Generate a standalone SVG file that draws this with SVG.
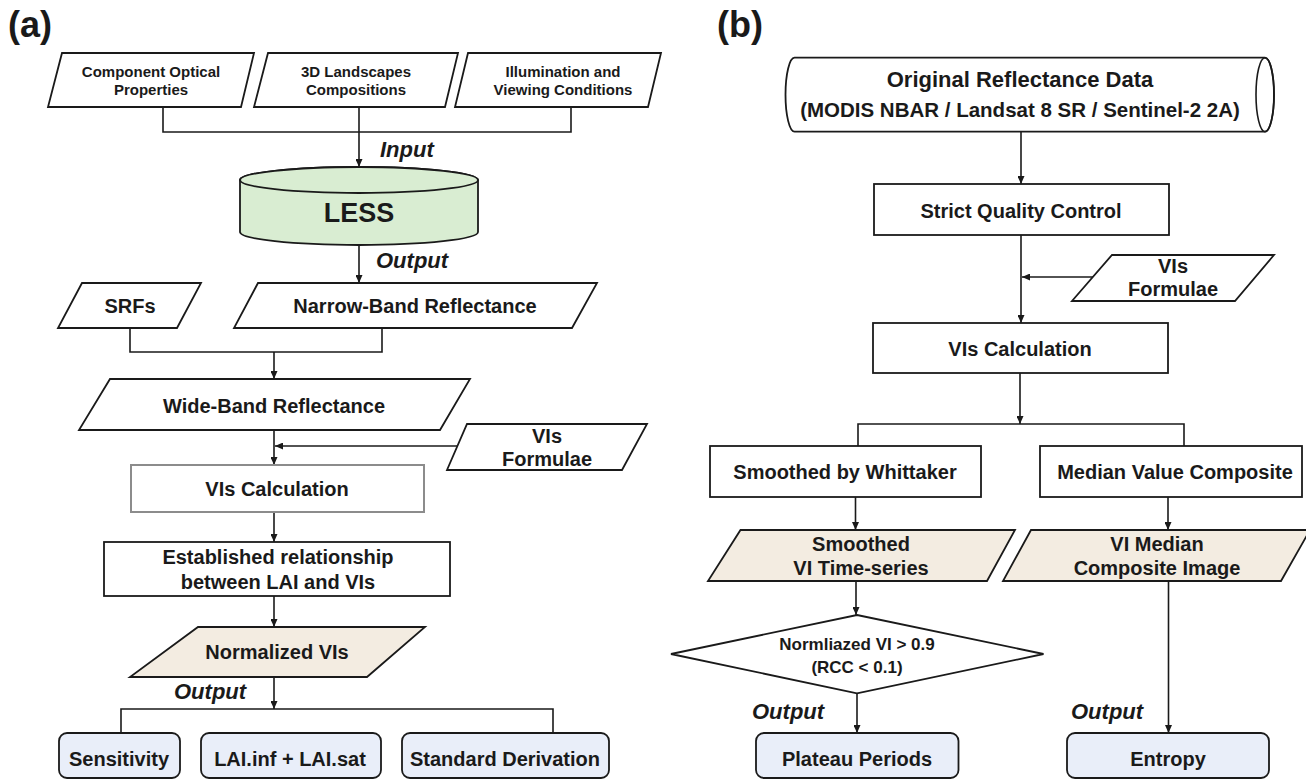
<svg xmlns="http://www.w3.org/2000/svg" width="1306" height="779" viewBox="0 0 1306 779">
<defs>
<marker id="arr" markerWidth="8" markerHeight="7" refX="8" refY="3.5" orient="auto" markerUnits="userSpaceOnUse"><path d="M0,0 L8,3.5 L0,7 z" fill="#1a1a1a"/></marker>
<style>
text{font-family:"Liberation Sans",Arial,sans-serif;font-weight:bold;fill:#1a1a1a;text-anchor:middle}
.s15{font-size:15px}.s20{font-size:20px}.s17{font-size:17px}
.lab{font-size:36px;text-anchor:start}
.it{font-size:22px;font-style:italic;text-anchor:start}
.box{fill:#fff;stroke:#1a1a1a;stroke-width:1.8}
.gray{fill:#fff;stroke:#8c8c8c;stroke-width:2}
.beige{fill:#f3ece1;stroke:#1a1a1a;stroke-width:1.8}
.blue{fill:#e9eef9;stroke:#1a1a1a;stroke-width:1.8}
.green{fill:#d9edd2;stroke:#1a1a1a;stroke-width:1.8}
.con path,.con line{fill:none;stroke:#1a1a1a;stroke-width:1.6}
.ar{marker-end:url(#arr)}
</style>
</defs>
<rect width="1306" height="779" fill="#fff"/>
<text class="lab" x="8" y="37">(a)</text>
<text class="lab" x="717" y="37">(b)</text>

<g id="connectors" class="con">
<path d="M163,107 V132 H571 V107"/>
<line class="ar" x1="359" y1="107" x2="359" y2="167"/>
<line class="ar" x1="359" y1="245" x2="359" y2="283"/>
<path d="M130,328 V352 H382 V328"/>
<line class="ar" x1="274" y1="352" x2="274" y2="379"/>
<line class="ar" x1="274" y1="430" x2="274" y2="465"/>
<line class="ar" x1="458" y1="446" x2="275" y2="446"/>
<line class="ar" x1="274" y1="512" x2="274" y2="542"/>
<line class="ar" x1="274" y1="596" x2="274" y2="627"/>
<line class="ar" x1="274" y1="677" x2="274" y2="709"/>
<path d="M121,733 V709 H553 V733"/>
<line class="ar" x1="1021" y1="132" x2="1021" y2="184"/>
<line class="ar" x1="1021" y1="235" x2="1021" y2="323"/>
<line class="ar" x1="1093" y1="277" x2="1022" y2="277"/>
<line class="ar" x1="1020" y1="373" x2="1020" y2="424"/>
<path d="M858,446 V424 H1184 V446"/>
<line class="ar" x1="855.5" y1="497" x2="855.5" y2="530"/>
<line class="ar" x1="1168" y1="497" x2="1168" y2="530"/>
<line class="ar" x1="856" y1="581" x2="856" y2="615"/>
<line class="ar" x1="857" y1="693" x2="857" y2="733"/>
<line class="ar" x1="1168.5" y1="581" x2="1168.5" y2="733"/>
</g>
<g id="labels">
<text class="it" x="380" y="157">Input</text>
<text class="it" x="376" y="268">Output</text>
<text class="it" x="174" y="699">Output</text>
<text class="it" x="752" y="719">Output</text>
<text class="it" x="1071" y="719">Output</text>
</g>

<g id="a-optical"><polygon class="box" points="62,53 254,53 241,107 48,107"/><text class="s15" x="151" y="77">Component Optical</text><text class="s15" x="151" y="95">Properties</text></g>
<g id="a-landscape"><polygon class="box" points="268,53 458,53 445,107 254,107"/><text class="s15" x="356" y="77">3D Landscapes</text><text class="s15" x="356" y="95">Compositions</text></g>
<g id="a-illum"><polygon class="box" points="468,53 661,53 648,107 455,107"/><text class="s15" x="563" y="77">Illumination and</text><text class="s15" x="563" y="95">Viewing Conditions</text></g>
<g id="a-less"><path class="green" d="M240,180 A119,13 0 0 1 478,180 V232 A119,13 0 0 1 240,232 Z"/><ellipse class="green" cx="359" cy="180" rx="119" ry="13"/><text x="359" y="222" style="font-size:27px">LESS</text></g>
<g id="a-srfs"><polygon class="box" points="82,283 201,283 177,328 58,328"/><text class="s20" x="130" y="313">SRFs</text></g>
<g id="a-narrow"><polygon class="box" points="258,283 597,283 572,328 234,328"/><text class="s20" x="415" y="313">Narrow-Band Reflectance</text></g>
<g id="a-wide"><polygon class="box" points="110,379 470,379 440,430 79,430"/><text class="s20" x="274" y="413">Wide-Band Reflectance</text></g>
<g id="a-formulae"><polygon class="box" points="467,424 647,424 622,470 447,470"/><text class="s20" x="547" y="443">VIs</text><text class="s20" x="547" y="466">Formulae</text></g>
<g id="a-vicalc"><rect class="gray" x="131" y="465" width="293" height="47"/><text class="s20" x="277" y="496">VIs Calculation</text></g>
<g id="a-relation"><rect class="box" x="104" y="542" width="346" height="54"/><text class="s20" x="278" y="564">Established relationship</text><text class="s20" x="278" y="589">between LAI and VIs</text></g>
<g id="a-normalized"><polygon class="beige" points="198,627 425,627 367,677 130,677"/><text class="s20" x="277" y="659">Normalized VIs</text></g>
<g id="a-sens"><rect class="blue" x="59" y="733" width="121" height="45" rx="8"/><text class="s20" x="119" y="766">Sensitivity</text></g>
<g id="a-lai"><rect class="blue" x="201" y="733" width="180" height="45" rx="8"/><text class="s20" x="290" y="766">LAI.inf + LAI.sat</text></g>
<g id="a-std"><rect class="blue" x="402" y="733" width="207" height="45" rx="8"/><text class="s20" x="505" y="766">Standard Derivation</text></g>

<g id="b-original"><path class="box" d="M794.5,57.7 H1265 A9,37 0 0 1 1265,131.7 H794.5 A9,37 0 0 1 794.5,57.7 Z"/><ellipse cx="1265" cy="94.7" rx="9" ry="37" fill="none" stroke="#1a1a1a" stroke-width="1.6"/><text x="1020" y="87" style="font-size:22px">Original Reflectance Data</text><text x="1020" y="117" style="font-size:20.5px">(MODIS NBAR / Landsat 8 SR / Sentinel-2 2A)</text></g>
<g id="b-quality"><rect class="box" x="874" y="184" width="295" height="51"/><text class="s20" x="1021" y="218">Strict Quality Control</text></g>
<g id="b-formulae"><polygon class="box" points="1112,255 1274,255 1235,301 1072,301"/><text class="s20" x="1173" y="273">VIs</text><text class="s20" x="1173" y="296">Formulae</text></g>
<g id="b-vicalc"><rect class="box" x="873" y="323" width="295" height="50"/><text class="s20" x="1020" y="356">VIs Calculation</text></g>
<g id="b-whittaker"><rect class="box" x="710" y="446" width="271" height="51"/><text class="s20" x="845" y="479">Smoothed by Whittaker</text></g>
<g id="b-median"><rect class="box" x="1040" y="446" width="262" height="51"/><text class="s20" x="1175" y="479">Median Value Composite</text></g>
<g id="b-smoothed"><polygon class="beige" points="740.5,530 1015,530 987,581 708,581"/><text class="s20" x="861" y="551">Smoothed</text><text class="s20" x="861" y="575">VI Time-series</text></g>
<g id="b-vimedian"><polygon class="beige" points="1031,530 1310,530 1281,581 1003,581"/><text class="s20" x="1157" y="551">VI Median</text><text class="s20" x="1157" y="575">Composite Image</text></g>
<g id="b-diamond"><polygon class="box" points="857,615 1043.5,654 857,693.3 671,654"/><text class="s17" x="857" y="650">Normliazed VI &gt; 0.9</text><text class="s17" x="857" y="673">(RCC &lt; 0.1)</text></g>
<g id="b-plateau"><rect class="blue" x="756" y="733" width="202.5" height="45" rx="8"/><text class="s20" x="857" y="766">Plateau Periods</text></g>
<g id="b-entropy"><rect class="blue" x="1067" y="733" width="202" height="45" rx="8"/><text class="s20" x="1168" y="766">Entropy</text></g>
</svg>
